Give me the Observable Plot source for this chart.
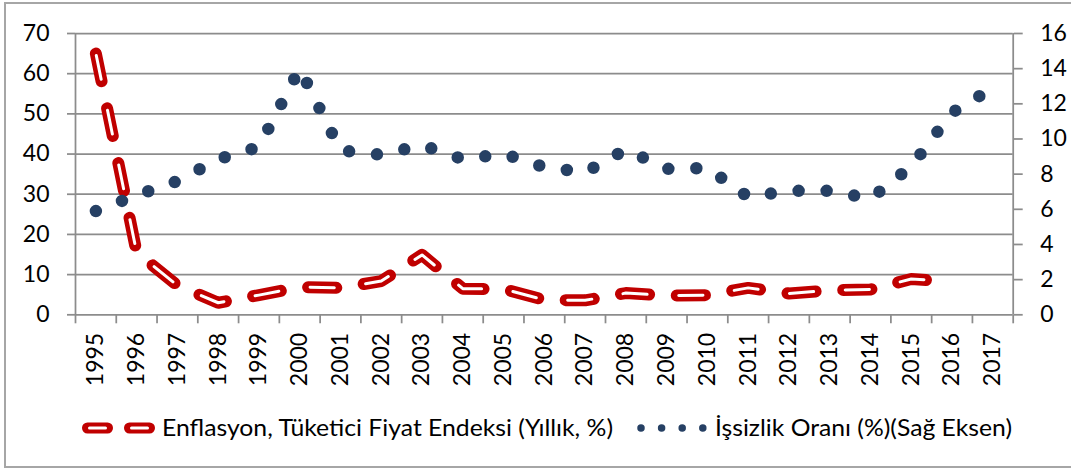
<!DOCTYPE html>
<html><head><meta charset="utf-8">
<script src="https://cdn.jsdelivr.net/npm/d3@7"></script>
<script src="https://cdn.jsdelivr.net/npm/@observablehq/plot@0.6"></script>
<style>
html,body{margin:0;padding:0;background:#fff;}
#wrap{position:relative;width:1071px;height:468px;overflow:hidden;font-family:Lato,sans-serif;}
#frame{position:absolute;left:4px;top:2px;width:1090px;height:466px;border:2px solid #a6a6a6;box-sizing:border-box;pointer-events:none;}
#legend{position:absolute;left:0;top:395px;}
#chart{position:absolute;left:0;top:0;}
</style></head><body>
<div id="wrap"><div id="chart"></div><svg id="legend" width="1071" height="73"></svg><div id="frame"></div></div>
<script>
// ---- data ----
const years = [1995,1996,1997,1998,1999,2000,2001,2002,2003,2004,2005,2006,2007,2008,2009,2010,2011,2012,2013,2014,2015,2016,2017];
const inflation = [65.0,15.5,7.3,3.0,4.9,6.9,6.7,8.4,14.9,6.5,6.4,3.7,3.6,5.4,4.8,4.9,6.7,5.3,6.1,6.3,8.9,8.3];
const unemployment = [5.9,6.8,7.6,8.85,9.55,14.0,9.35,9.1,9.65,8.85,9.15,8.4,8.1,9.4,8.3,8.35,6.7,7.05,7.05,6.6,8.45,11.5,12.9];
const leftTicks = [0,10,20,30,40,50,60,70];
const rightTicks = [0,2,4,6,8,10,12,14,16];
const inflLabel = "Enflasyon, Tüketici Fiyat Endeksi (Yıllık, %)";
const unLabel = "İşsizlik Oranı (%)(Sağ Eksen)";

// ---- layout ----
const W = 1071, H = 395;
const xLeft = 75, xRight = 1012.7, yTop = 33, yBase = 314.3;
const leftMax = leftTicks[leftTicks.length-1], rightMax = rightTicks[rightTicks.length-1];
const toLeft = v => v * leftMax / rightMax;
const inflData = inflation.map((v,i) => ({year: years[i], v}));
const unData = unemployment.map((v,i) => ({year: years[i], v: toLeft(v)}));
const bounds = years.map(y => y - 0.5).concat([years[years.length-1] + 0.5]);
const grid = "#8c8c8c";
const red = "#c00000", navy = "#264064";

const chart = Plot.plot({
  width: W, height: H,
  marginLeft: xLeft, marginRight: W - xRight, marginTop: yTop, marginBottom: H - yBase,
  style: {fontFamily: "Lato, sans-serif", fontSize: "23px", color: "#000", background: "transparent", overflow: "visible"},
  x: {type: "linear", domain: [bounds[0], bounds[bounds.length-1]], axis: null},
  y: {domain: [0, leftMax], axis: null},
  marks: [
    Plot.ruleY(leftTicks, {stroke: grid, strokeWidth: 1.75}),
    Plot.ruleX([bounds[0], bounds[bounds.length-1]], {y1: 0, y2: leftMax, stroke: grid, strokeWidth: 1.75}),
    Plot.axisX(bounds, {tickSize: 9, tickFormat: () => "", stroke: grid, strokeWidth: 1.75, label: null}),
    Plot.axisX(years, {tickSize: 0, tickPadding: 18, tickRotate: -90, tickFormat: d => String(d), label: null}),
    Plot.axisY(leftTicks, {anchor: "left", tickSize: 8, tickPadding: 18, stroke: grid, strokeWidth: 1.75, label: null}),
    Plot.axisY(rightTicks.map(toLeft), {anchor: "right", tickSize: 9, tickPadding: 18,
      tickFormat: d => String(Math.round(d * rightMax / leftMax)), stroke: grid, strokeWidth: 1.75, label: null}),
    Plot.line(inflData, {x: "year", y: "v", stroke: red, strokeWidth: 12, strokeDasharray: "28 27.5", strokeLinecap: "round", strokeLinejoin: "round"}),
    Plot.line(inflData, {x: "year", y: "v", stroke: "#fff", strokeWidth: 3, strokeDasharray: "24 31.5", strokeDashoffset: -2, strokeLinecap: "round", strokeLinejoin: "round"}),
    Plot.line(unData, {x: "year", y: "v", stroke: navy, strokeWidth: 12.5, strokeDasharray: "0 28", strokeLinecap: "round", strokeLinejoin: "round"})
  ]
});
document.getElementById("chart").appendChild(chart);

// align the dash phase of the inflation line (a dash starts just before the 2015 point)
(function alignDashes(){
  const groups = chart.querySelectorAll('g[aria-label="line"]');
  if (groups.length < 2) return;
  const redPath = groups[0].querySelector("path"), whitePath = groups[1].querySelector("path");
  if (!redPath || !redPath.getTotalLength) return;
  const total = redPath.getTotalLength();
  const targetX = 897.7;
  let lo = 0, hi = total;
  for (let k = 0; k < 40; k++) { const m = (lo + hi) / 2; if (redPath.getPointAtLength(m).x < targetX) lo = m; else hi = m; }
  const L = (lo + hi) / 2;
  const n = Math.max(1, Math.round(L / 55.5));
  const P = L / n;
  const dash = P * 0.505;
  redPath.setAttribute("stroke-dasharray", `${dash} ${P - dash}`);
  whitePath.setAttribute("stroke-dasharray", `${dash - 4} ${P - dash + 4}`);
  whitePath.setAttribute("stroke-dashoffset", -2);
  // the attribute on the group would otherwise be inherited only; set on the groups too
  groups[0].setAttribute("stroke-dasharray", `${dash} ${P - dash}`);
  groups[1].setAttribute("stroke-dasharray", `${dash - 4} ${P - dash + 4}`);
})();

// ---- legend ----
const lg = d3.select("#legend");
const ly = 33, lb = 40.7;
lg.append("line").attr("x1", 87.5).attr("x2", 149.5).attr("y1", ly).attr("y2", ly)
  .attr("stroke", red).attr("stroke-width", 11).attr("stroke-dasharray", "20 22").attr("stroke-linecap", "round");
lg.append("line").attr("x1", 87.5).attr("x2", 149.5).attr("y1", ly).attr("y2", ly)
  .attr("stroke", "#fff").attr("stroke-width", 3).attr("stroke-dasharray", "16 26").attr("stroke-dashoffset", -2).attr("stroke-linecap", "round");
lg.append("text").attr("x", 162).attr("y", lb).attr("font-family", "Lato, sans-serif").attr("font-size", 23)
  .attr("textLength", 451).attr("lengthAdjust", "spacingAndGlyphs").text(inflLabel);
lg.append("line").attr("x1", 641).attr("x2", 704).attr("y1", ly).attr("y2", ly)
  .attr("stroke", navy).attr("stroke-width", 7.5).attr("stroke-dasharray", "0 20.6").attr("stroke-linecap", "round");
lg.append("text").attr("x", 715).attr("y", lb).attr("font-family", "Lato, sans-serif").attr("font-size", 23)
  .attr("textLength", 297).attr("lengthAdjust", "spacingAndGlyphs").text(unLabel);
</script></body></html>
